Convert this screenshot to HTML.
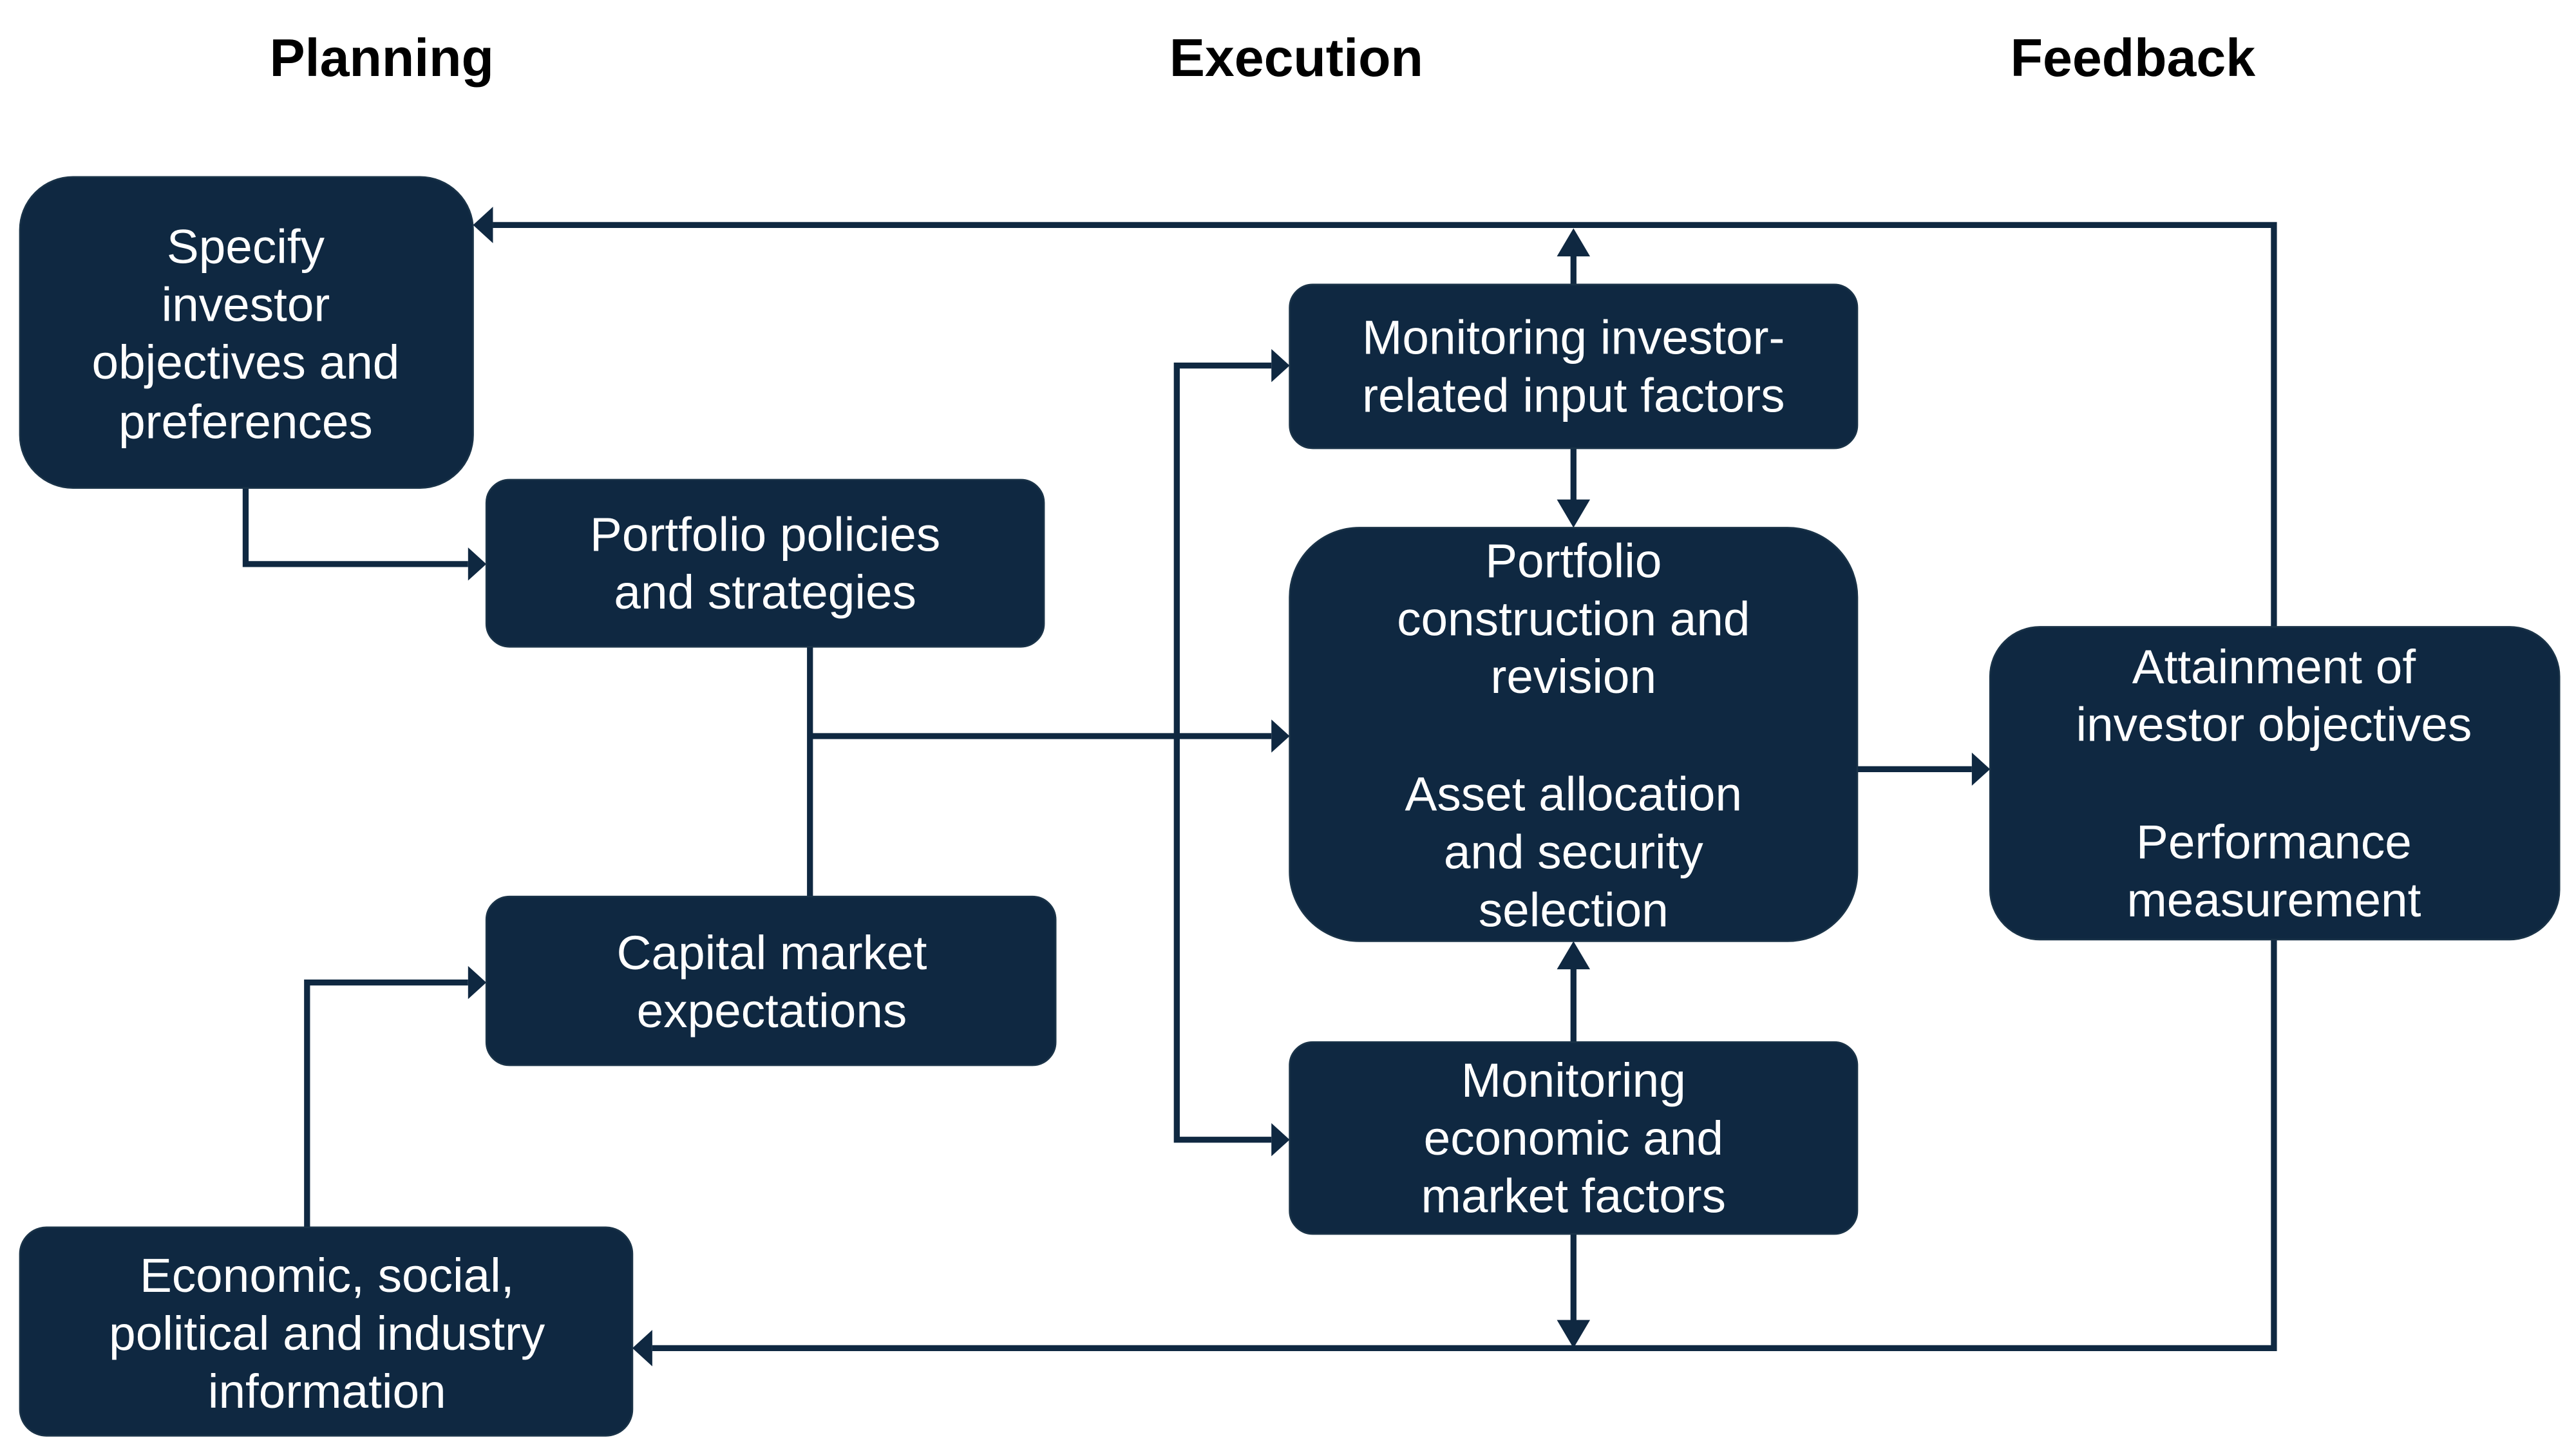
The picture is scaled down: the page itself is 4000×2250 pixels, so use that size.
<!DOCTYPE html>
<html><head><meta charset="utf-8"><style>
html,body{margin:0;padding:0;background:#fff;}
svg{display:block;}
text{font-family:"Liberation Sans",sans-serif;}
.h{font-weight:bold;font-size:32px;fill:#000;}
.b{font-size:29px;fill:#fff;}
.l{stroke:#0f2841;stroke-width:3.6;fill:none;}
.a{fill:#0f2841;}
rect{fill:#0f2841;stroke:#1a3348;stroke-width:1;}
</style></head><body>
<svg width="4000" height="2250" viewBox="0 0 1552 876" preserveAspectRatio="none" xmlns="http://www.w3.org/2000/svg">
<text class="h" x="230" y="46" text-anchor="middle">Planning</text>
<text class="h" x="781" y="46" text-anchor="middle">Execution</text>
<text class="h" x="1285" y="46" text-anchor="middle">Feedback</text>

<polyline class="l" points="148,295 148,341 282,341"/>
<polygon class="a" points="293,341 282,331 282,351"/>
<polyline class="l" points="488,391 488,542"/>
<polyline class="l" points="488,445 766,445"/>
<polygon class="a" points="777,445 766,435 766,455"/>
<polyline class="l" points="766,221 709,221 709,689 766,689"/>
<polygon class="a" points="777,221 766,211 766,231"/>
<polygon class="a" points="777,689 766,679 766,699"/>
<polyline class="l" points="948,271 948,308"/>
<polygon class="a" points="948,319 938,302 958,302"/>
<polyline class="l" points="948,630 948,580"/>
<polygon class="a" points="948,569 938,586 958,586"/>
<polyline class="l" points="948,172 948,150"/>
<polygon class="a" points="948,138 938,155 958,155"/>
<polyline class="l" points="1370,379 1370,136 297,136"/>
<polygon class="a" points="285,136 297,125 297,147"/>
<polyline class="l" points="1119,465 1188,465"/>
<polygon class="a" points="1199,465 1188,455 1188,475"/>
<polyline class="l" points="1370,568 1370,815 393,815"/>
<polygon class="a" points="381,815 393,804 393,826"/>
<polyline class="l" points="948,746 948,803"/>
<polygon class="a" points="948,815 938,798 958,798"/>
<polyline class="l" points="185,742 185,594 282,594"/>
<polygon class="a" points="293,594 282,584 282,604"/>

<rect x="12" y="107" width="273" height="188" rx="32"/>
<rect x="293" y="290" width="336" height="101" rx="14"/>
<rect x="293" y="542" width="343" height="102" rx="14"/>
<rect x="12" y="742" width="369" height="126" rx="16"/>
<rect x="777" y="172" width="342" height="99" rx="14"/>
<rect x="777" y="319" width="342" height="250" rx="42"/>
<rect x="777" y="630" width="342" height="116" rx="14"/>
<rect x="1199" y="379" width="343" height="189" rx="30"/>

<g class="b" text-anchor="middle">
<text x="148" y="159">Specify</text>
<text x="148" y="194">investor</text>
<text x="148" y="229">objectives and</text>
<text x="148" y="265">preferences</text>

<text x="461" y="333">Portfolio policies</text>
<text x="461" y="368">and  strategies</text>

<text x="465" y="586">Capital market</text>
<text x="465" y="621">expectations</text>

<text x="197" y="781">Economic, social,</text>
<text x="197" y="816">political and industry</text>
<text x="197" y="851">information</text>

<text x="948" y="214">Monitoring investor-</text>
<text x="948" y="249">related input factors</text>

<text x="948" y="349">Portfolio</text>
<text x="948" y="384">construction and</text>
<text x="948" y="419">revision</text>
<text x="948" y="490">Asset allocation</text>
<text x="948" y="525">and security</text>
<text x="948" y="560">selection</text>

<text x="948" y="663">Monitoring</text>
<text x="948" y="698">economic and</text>
<text x="948" y="733">market factors</text>

<text x="1370" y="413">Attainment of</text>
<text x="1370" y="448">investor objectives</text>
<text x="1370" y="519">Performance</text>
<text x="1370" y="554">measurement</text>
</g>
</svg>
</body></html>
